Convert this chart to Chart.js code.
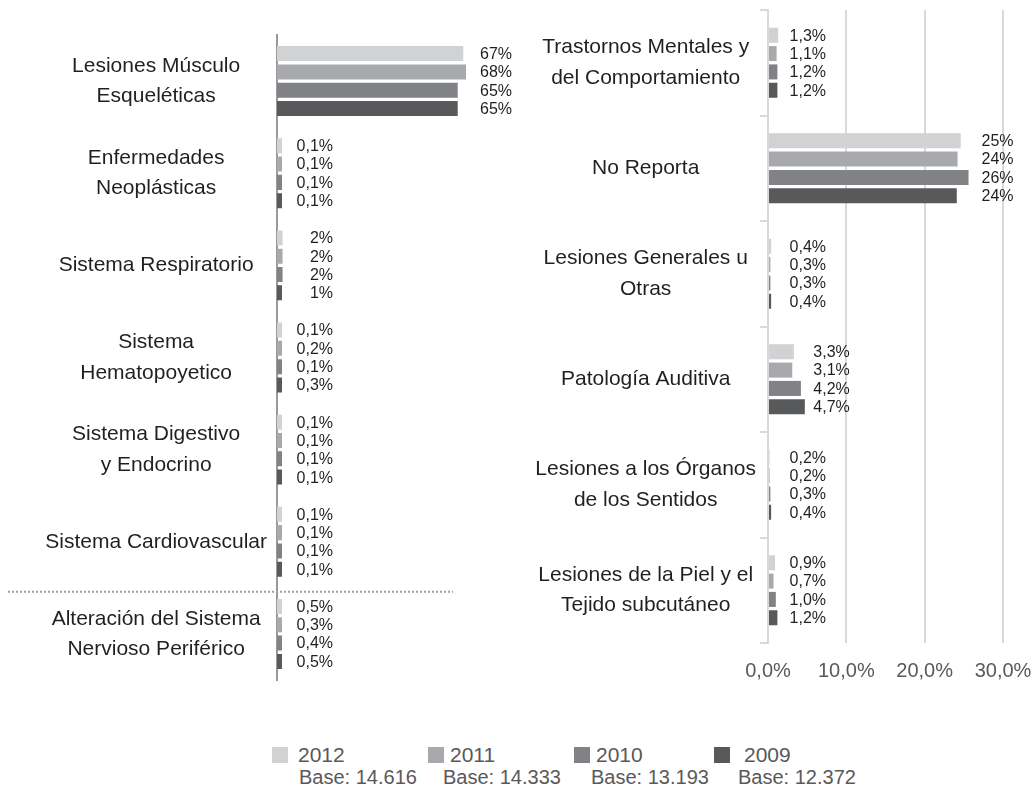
<!DOCTYPE html>
<html>
<head>
<meta charset="utf-8">
<script src="https://cdn.jsdelivr.net/npm/chart.js@4.4.0/dist/chart.umd.min.js"></script>
<style>
body { margin: 0; background: #fff; width: 1035px; height: 787px; position: relative; overflow: hidden;
       font-family: "Liberation Sans", Arial, sans-serif; }
#leftChart { position: absolute; left: 0; top: 0; }
#rightChart { position: absolute; left: 515px; top: 0; }
.item { position: absolute; color: #595959; white-space: nowrap; }
.year { top: 744px; font-size: 21px; line-height: 22px; }
.base { top: 765px; font-size: 20px; line-height: 24px; }
.box { position: absolute; top: 747px; width: 16px; height: 16px; }
</style>
</head>
<body>
<canvas id="leftChart" width="515" height="700"></canvas>
<canvas id="rightChart" width="520" height="700"></canvas>
<div id="legend"></div>
<script>
// series order: 2012, 2011, 2010, 2009
const years = ['2012', '2011', '2010', '2009'];
const bases = ['Base: 14.616', 'Base: 14.333', 'Base: 13.193', 'Base: 12.372'];
const colors = ['#d1d2d4', '#a7a9ac', '#808285', '#58595b'];

const leftCategories = [
    ['Lesiones Músculo', 'Esqueléticas'],
    ['Enfermedades', 'Neoplásticas'],
    'Sistema Respiratorio',
    ['Sistema', 'Hematopoyetico'],
    ['Sistema Digestivo', 'y Endocrino'],
    'Sistema Cardiovascular',
    ['Alteración del Sistema', 'Nervioso Periférico']
];
const left2012 = [67, 0.1, 2, 0.1, 0.1, 0.1, 0.5];
const left2011 = [68, 0.1, 2, 0.2, 0.1, 0.1, 0.3];
const left2010 = [65, 0.1, 2, 0.1, 0.1, 0.1, 0.4];
const left2009 = [65, 0.1, 1, 0.3, 0.1, 0.1, 0.5];

const rightCategories = [
    ['Trastornos Mentales y', 'del Comportamiento'],
    'No Reporta',
    ['Lesiones Generales u', 'Otras'],
    'Patología Auditiva',
    ['Lesiones a los Órganos', 'de los Sentidos'],
    ['Lesiones de la Piel y el', 'Tejido subcutáneo']
];
const right2012 = [1.3, 24.6, 0.4, 3.3, 0.2, 0.9];
const right2011 = [1.1, 24.2, 0.3, 3.1, 0.2, 0.7];
const right2010 = [1.2, 25.6, 0.3, 4.2, 0.3, 1.0];
const right2009 = [1.2, 24.1, 0.4, 4.7, 0.4, 1.2];
const rightTicks = [0, 10, 20, 30];

const family = '"Liberation Sans", Arial, sans-serif';
Chart.defaults.font.family = family;

function fmt(v, intFrom) {
    if (v >= intFrom) return Math.round(v) + '%';
    return v.toFixed(1).replace('.', ',') + '%';
}

// drop the automatic label overhang so the plot area sits where we put it
function noOverhang(s) {
    s.paddingTop = 0; s.paddingBottom = 0; s.paddingLeft = 0; s.paddingRight = 0;
}

// value labels, right-aligned in one column per category
const valueLabels = {
    id: 'valueLabels',
    afterDatasetsDraw(chart, args, opts) {
        const ctx = chart.ctx;
        ctx.save();
        ctx.font = '16px ' + family;
        ctx.fillStyle = '#231f20';
        ctx.textAlign = 'right';
        ctx.textBaseline = 'middle';
        chart.data.labels.forEach((lab, i) => {
            let maxEnd = 0;
            chart.data.datasets.forEach((ds, d) => {
                maxEnd = Math.max(maxEnd, chart.getDatasetMeta(d).data[i].x);
            });
            const x = Math.max(maxEnd + opts.gap, chart.chartArea.left + opts.minOffset);
            chart.data.datasets.forEach((ds, d) => {
                const bar = chart.getDatasetMeta(d).data[i];
                ctx.fillText(fmt(ds.data[i], opts.intFrom), x, bar.y + 1);
            });
        });
        ctx.restore();
    }
};

// dotted separator line on the left panel
const divider = {
    id: 'divider',
    afterDraw(chart, args, opts) {
        const ctx = chart.ctx;
        const y = chart.scales.y.getPixelForValue(opts.after + 0.5) + 4;
        ctx.save();
        ctx.strokeStyle = '#a0a0a0';
        ctx.lineWidth = 2;
        ctx.setLineDash([2, 2]);
        ctx.beginPath();
        ctx.moveTo(8, y);
        ctx.lineTo(chart.chartArea.left + 176, y);
        ctx.stroke();
        ctx.restore();
    }
};

function makeSets(series, catPct, minLen) {
    return series.map((data, i) => ({
        label: years[i],
        data: data,
        backgroundColor: colors[i],
        borderWidth: 0,
        categoryPercentage: catPct,
        barPercentage: 0.82,
        minBarLength: minLen
    }));
}

new Chart(document.getElementById('leftChart'), {
    type: 'bar',
    data: {
        labels: leftCategories,
        datasets: makeSets([left2012, left2011, left2010, left2009], 0.795, 5)
    },
    options: {
        indexAxis: 'y',
        responsive: false,
        animation: false,
        layout: { padding: { top: 35, bottom: 20, left: 0, right: 15.6 } },
        plugins: {
            legend: { display: false },
            tooltip: { enabled: false },
            valueLabels: { gap: 46, minOffset: 56, intFrom: 1 },
            divider: { after: 5 }
        },
        scales: {
            x: { display: false, min: 0, max: 80, afterFit: noOverhang },
            y: {
                afterFit(s) { s.width = 277; noOverhang(s); },
                grid: { display: true, drawOnChartArea: false, drawTicks: false },
                border: { display: true, color: '#9a9a9a', width: 2 },
                ticks: { crossAlign: 'center', padding: 10, color: '#231f20',
                         font: { size: 21, lineHeight: 1.45 } }
            }
        }
    },
    plugins: [valueLabels, divider]
});

new Chart(document.getElementById('rightChart'), {
    type: 'bar',
    data: {
        labels: rightCategories,
        datasets: makeSets([right2012, right2011, right2010, right2009], 0.695, 0)
    },
    options: {
        indexAxis: 'y',
        responsive: false,
        animation: false,
        layout: { padding: { top: 10, bottom: 0, left: 0, right: 32 } },
        plugins: {
            legend: { display: false },
            tooltip: { enabled: false },
            valueLabels: { gap: 45, minOffset: 58, intFrom: 10 }
        },
        scales: {
            x: {
                min: rightTicks[0],
                max: rightTicks[rightTicks.length - 1],
                afterFit(s) { s.height = 57; noOverhang(s); },
                afterBuildTicks(s) { s.ticks = rightTicks.map(v => ({ value: v })); },
                grid: { color: '#d9d9d9', lineWidth: 2, drawTicks: false },
                border: { display: false },
                ticks: { color: '#595959', padding: 16, font: { size: 20 },
                         callback: v => v.toFixed(1).replace('.', ',') + '%' }
            },
            y: {
                afterFit(s) { s.width = 253; noOverhang(s); },
                grid: { drawOnChartArea: false, drawTicks: true, tickLength: 8, color: '#d9d9d9', lineWidth: 2 },
                border: { display: true, color: '#d9d9d9', width: 2 },
                ticks: { crossAlign: 'center', padding: 4, color: '#231f20',
                         font: { size: 21, lineHeight: 1.45 } }
            }
        }
    },
    plugins: [valueLabels]
});

// legend: year boxes with the base count underneath
const boxLeft = [272, 428, 574, 714];
const yearLeft = [298, 450, 596, 744];
const baseLeft = [299, 443, 591, 738];
const legend = document.getElementById('legend');
years.forEach((y, i) => {
    legend.insertAdjacentHTML('beforeend',
        '<span class="box" style="left:' + boxLeft[i] + 'px;background:' + colors[i] + '"></span>' +
        '<span class="item year" style="left:' + yearLeft[i] + 'px">' + y + '</span>' +
        '<span class="item base" style="left:' + baseLeft[i] + 'px">' + bases[i] + '</span>');
});
</script>
</body>
</html>
